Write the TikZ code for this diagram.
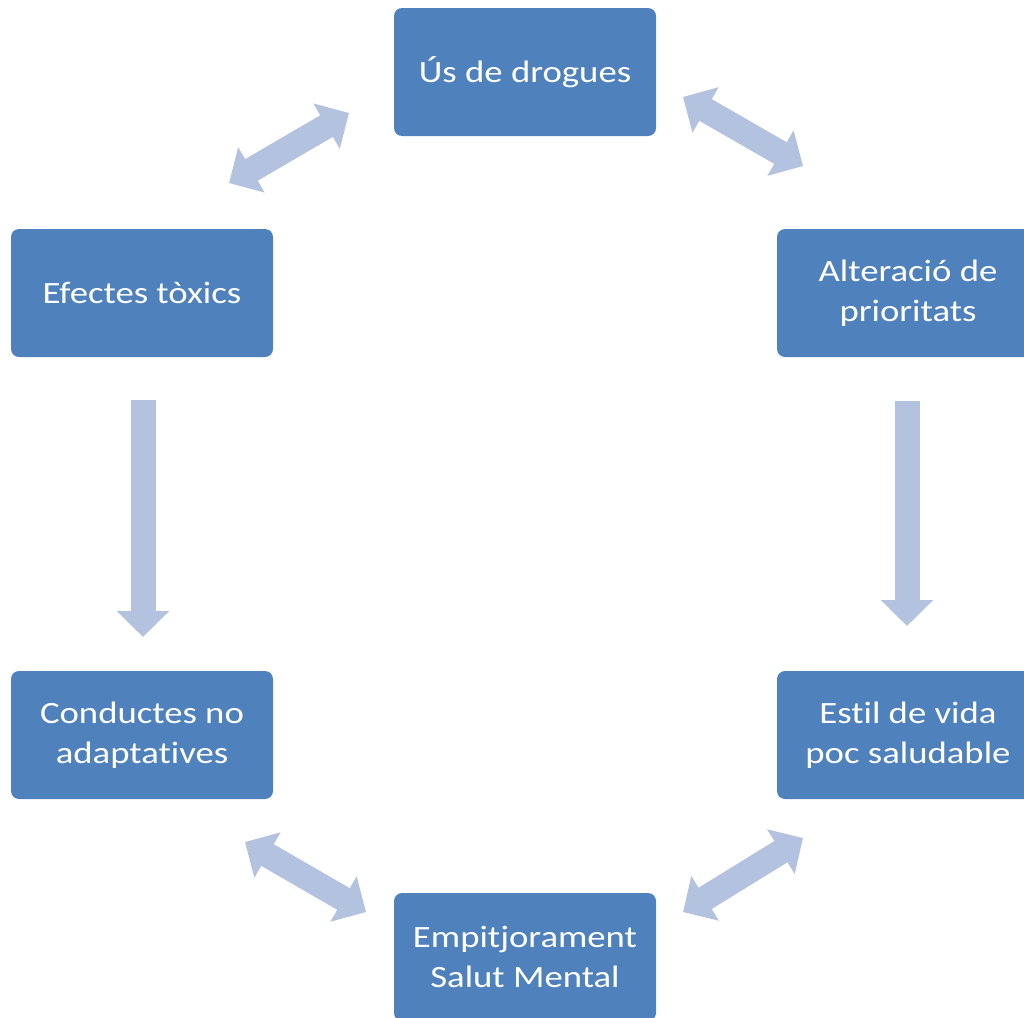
\documentclass[tikz,border=0pt]{standalone}
\usepackage{fontspec}
\setmainfont{Carlito}[FakeStretch=1.185,Ligatures=NoCommon]
\usetikzlibrary{arrows.meta}
\definecolor{boxblue}{HTML}{4F81BD}
\definecolor{arrowblue}{HTML}{B3C2DE}
\begin{document}
\begin{tikzpicture}[x=1pt,y=-1pt,
  box/.style={fill=boxblue, draw=none, rounded corners=8pt, minimum width=262pt, minimum height=128pt,
    text=white, align=center, font=\fontsize{31}{40}\selectfont, inner sep=0pt},
  blockarrow/.style={draw=arrowblue, line width=25pt, {Triangle[length=26pt,width=51pt]}-{Triangle[length=26pt,width=51pt]}},
  onearrow/.style={draw=arrowblue, line width=25pt, -{Triangle[length=26pt,width=51pt]}}]
\useasboundingbox (0,0) rectangle (1024,1017);
\node[box] (drug) at (525,72) {Ús de drogues};
\node[box] (tox) at (142,293) {Efectes tòxics};
\node[box] (alt) at (908,293) {Alteració de\\prioritats};
\node[box] (cond) at (142,735) {Conductes no\\adaptatives};
\node[box] (estil) at (908,735) {Estil de vida\\poc saludable};
\node[box] (emp) at (525,957) {Empitjorament\\Salut Mental};
\coordinate (a1s) at (229,183);
\coordinate (a1e) at (349,113);
\coordinate (a2s) at (683,97);
\coordinate (a2e) at (803,166);
\coordinate (a3s) at (143,400);
\coordinate (a3e) at (143,637);
\coordinate (a4s) at (907,401);
\coordinate (a4e) at (907,626);
\coordinate (a5s) at (245,842);
\coordinate (a5e) at (366,912);
\coordinate (a6s) at (683,912);
\coordinate (a6e) at (803,838);
\draw[blockarrow] (a1s) -- (a1e);
\draw[blockarrow] (a2s) -- (a2e);
\draw[onearrow] (a3s) -- (a3e);
\draw[onearrow] (a4s) -- (a4e);
\draw[blockarrow] (a5s) -- (a5e);
\draw[blockarrow] (a6s) -- (a6e);
\end{tikzpicture}
\end{document}
